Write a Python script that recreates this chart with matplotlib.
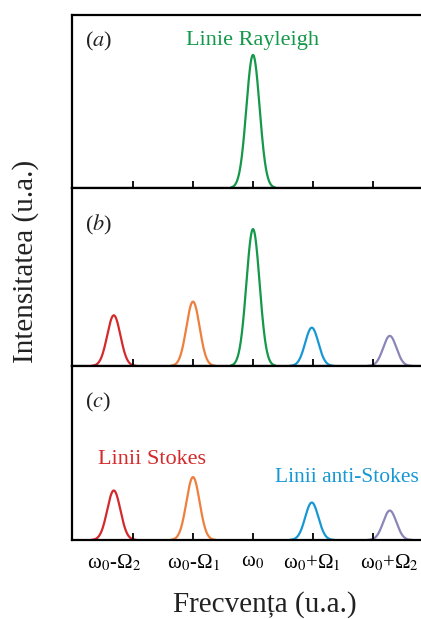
import numpy as np
import matplotlib
matplotlib.use("Agg")
import matplotlib.pyplot as plt

plt.rcParams['font.family'] = ['Liberation Serif', 'DejaVu Serif']
plt.rcParams['mathtext.fontset'] = 'stix'

# peak data (frequency position in units of tick spacing, relative intensity)
peak_names = ['stokes2', 'stokes1', 'rayleigh', 'anti1', 'anti2']
peak_pos = [-2.32, -1.0, 0.0, 0.98, 2.28]
peak_height = [0.37, 0.47, 1.0, 0.28, 0.22]
peak_colors = ['#d42a2c', '#ee7f3e', '#14984a', '#1798d4', '#8a86b8']
peak_width = 0.11

tick_pos = [-2, -1, 0, 1, 2]
tick_labels = ['ω$_0$-Ω$_2$', 'ω$_0$-Ω$_1$', 'ω$_0$',
               'ω$_0$+Ω$_1$', 'ω$_0$+Ω$_2$']

# which peaks show in each panel
panel_peaks = [[2], [0, 1, 2, 3, 4], [0, 1, 3, 4]]
panel_tags = ['a', 'b', 'c']

W, H = 421, 619
fig = plt.figure(figsize=(W/100, H/100), dpi=100)

# panel boxes in pixels: (top, bottom)
boxes = [(15, 188), (188, 366), (366, 540)]
left_px, right_px = 72, 432
tag_y = [0.845, 0.79, 0.79]

axes = []
for k, (top, bot) in enumerate(boxes):
    ax = fig.add_axes([left_px/W, 1-bot/H, (right_px-left_px)/W, (bot-top)/H])
    ax.set_xlim((left_px-253)/60, (right_px-253)/60)
    ax.set_ylim(0, 1.3)
    for s in ax.spines.values():
        s.set_linewidth(1.6)
    ax.set_yticks([])
    ax.xaxis.remove_overlapping_locs = False
    ax.set_xticks(tick_pos)
    ax.tick_params(axis='x', which='major', direction='in', length=5, width=1.3,
                   labelbottom=False)
    ax.set_xticks(peak_pos, minor=True)
    ax.tick_params(axis='x', which='minor', length=0, labelbottom=False)
    for i in panel_peaks[k]:
        x = np.linspace(peak_pos[i]-0.36, peak_pos[i]+0.36, 200)
        y = peak_height[i]*np.exp(-(x-peak_pos[i])**2/(2*peak_width**2))
        ax.plot(x, y, color=peak_colors[i], lw=1.6, zorder=1)
    ax.text(0.036, tag_y[k], r'($\it{%s}$)' % panel_tags[k], transform=ax.transAxes,
            fontsize=16, va='center', ha='left', color='#222222')
    axes.append(ax)

axes[0].text(peak_pos[2], 1.11, 'Linie Rayleigh', color=peak_colors[2],
             fontsize=16, ha='center', va='center')
axes[2].text(-1.68, 0.605, 'Linii Stokes', color=peak_colors[0],
             fontsize=16, ha='center', va='center')
axes[2].text(0.37, 0.47, 'Linii anti-Stokes', color=peak_colors[3],
             fontsize=15.5, ha='left', va='center')

axes[2].set_xticklabels(tick_labels, minor=True, fontsize=15)
axes[2].tick_params(axis='x', which='minor', labelbottom=True, pad=9)

fig.text(26/W, 1-261/H, 'Intensitatea (u.a.)', rotation=90, fontsize=21,
         ha='center', va='center', color='#222222')
fig.text(265/W, 1-605/H, 'Frecvența (u.a.)', fontsize=21,
         ha='center', va='center', color='#222222')

fig.savefig('out.png', dpi=100)
